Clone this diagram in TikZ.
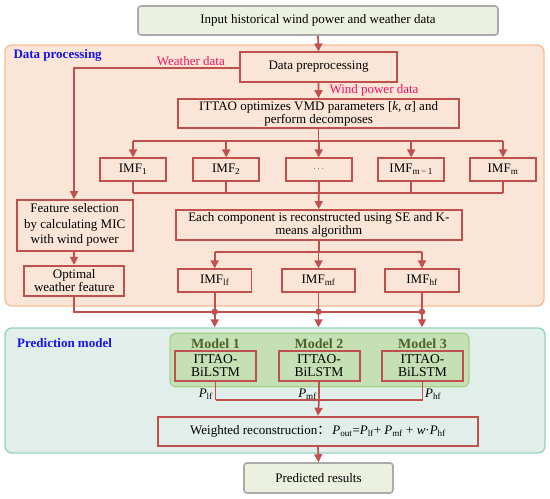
\documentclass[tikz,border=0pt]{standalone}
\usepackage{fontspec}
\setmainfont{Liberation Serif}
\newfontfamily\cjk{Noto Sans CJK SC}
\usetikzlibrary{arrows.meta}
\definecolor{lr}{RGB}{192,80,77}
\definecolor{mag}{RGB}{240,20,100}
\definecolor{lblue}{RGB}{20,20,235}
\definecolor{olive}{RGB}{79,98,40}
\definecolor{orfill}{RGB}{251,229,214}
\definecolor{ordraw}{RGB}{246,190,150}
\definecolor{tlfill}{RGB}{226,238,234}
\definecolor{tldraw}{RGB}{150,212,190}
\definecolor{gnfill}{RGB}{197,224,180}
\definecolor{gndraw}{RGB}{169,209,142}
\definecolor{iofill}{RGB}{235,241,222}
\definecolor{iodraw}{RGB}{170,170,170}
\begin{document}
\begin{tikzpicture}[x=1pt,y=-1pt,
  font=\fontsize{13}{12.5}\selectfont,
  box/.style={draw=lr, line width=1.8pt, inner sep=0pt, align=center},
  iobox/.style={draw=iodraw, fill=iofill, line width=1.6pt, rounded corners=3pt, inner sep=0pt, align=center},
  conn/.style={draw=lr, line width=1.7pt},
  arr/.style={conn, -{Triangle[length=8pt,width=8pt]}},
  lab/.style={text=mag, inner sep=0pt},
  sect/.style={text=lblue, font=\fontsize{13}{15}\selectfont\bfseries, inner sep=0pt, anchor=west},
  mlab/.style={text=olive, font=\fontsize{14}{15}\selectfont\bfseries, inner sep=0pt},
  mbox/.style={box, line width=2pt, font=\fontsize{13.5}{13}\selectfont, minimum width=81pt, minimum height=30pt},
  jdot/.style={fill=lr}
]
\useasboundingbox (0,0) rectangle (550,499);
% backgrounds
\node[draw=ordraw, fill=orfill, line width=1.4pt, rounded corners=7pt, minimum width=539pt, minimum height=261pt, inner sep=0pt] (dproc) at (274.5,175.5) {};
\node[draw=tldraw, fill=tlfill, line width=1.4pt, rounded corners=7pt, minimum width=540pt, minimum height=125pt, inner sep=0pt] (pmod) at (275,390.5) {};
\node[draw=gndraw, fill=gnfill, line width=1.4pt, rounded corners=6pt, minimum width=299pt, minimum height=53.4pt, inner sep=0pt] (gbox) at (319.5,360) {};
\node[sect] (t1) at (13.3,55.7) {Data processing};
\node[sect] (t2) at (17,343) {Prediction model};

% top
\node[iobox, minimum width=360pt, minimum height=29pt] (in) at (318,20.5) {Input historical wind power and weather data};
\node[box, minimum width=157pt, minimum height=29.4pt] (dp) at (318.5,67) {Data preprocessing};
\node[box, minimum width=281pt, minimum height=29.3pt] (ittao) at (318.6,113.7) {ITTAO optimizes VMD parameters [\textit{k}, \textit{α}] and\\perform decomposes};
\node[lab, anchor=east] (wd) at (225,61) {Weather data};
\node[lab, anchor=west] (wp) at (329.3,90.7) {Wind power data};

% IMF row
\foreach \n/\x/\t in {i1/133/IMF\textsubscript{1}, i2/226.2/IMF\textsubscript{2}, i3/318.7/\raisebox{1pt}{\fontsize{9}{9}\selectfont$\cdots$}, i4/411.2/IMF\textsubscript{m\,−\,1}, i5/503/IMF\textsubscript{m}}
  \node[box, minimum width=66pt, minimum height=22.4pt] (\n) at (\x,169.5) {\t};

\node[box, minimum width=285.7pt, minimum height=30pt] (se) at (318.8,225) {Each component is reconstructed using SE and K-\\means algorithm};

\foreach \n/\x/\t in {lf/214.7/IMF\textsubscript{lf}, mf/318.5/IMF\textsubscript{mf}, hf/422/IMF\textsubscript{hf}}
  \node[box, minimum width=73.5pt, minimum height=22.4pt] (\n) at (\x,280.5) {\t};

\node[box, minimum width=116pt, minimum height=50.7pt, font=\fontsize{13}{15.5}\selectfont] (feat) at (74.7,225.3) {Feature selection\\by calculating MIC\\with wind power};
\node[box, minimum width=100pt, minimum height=30pt] (opt) at (74.3,280.7) {Optimal\\weather feature};

% models
\node[mlab] (ml1) at (215.5,343.5) {Model 1};
\node[mlab] (ml2) at (319,343.5) {Model 2};
\node[mlab] (ml3) at (422.5,343.5) {Model 3};
\node[mbox] (m1) at (215.5,365.7) {ITTAO-\\BiLSTM};
\node[mbox] (m2) at (319,365.7) {ITTAO-\\BiLSTM};
\node[mbox] (m3) at (422.5,365.7) {ITTAO-\\BiLSTM};

\node[box, minimum width=320pt, minimum height=29.3pt] (wr) at (318,431.3) {Weighted reconstruction{\cjk ：}\,\textit{P}\textsubscript{out}=\textit{P}\textsubscript{lf}+ \textit{P}\textsubscript{mf} + \textit{w}·\textit{P}\textsubscript{hf}};
\node[iobox, minimum width=149pt, minimum height=30pt] (pr) at (318.5,478) {Predicted results};

% coordinates
\coordinate (b1) at (318.6,140.7);
\coordinate (b2) at (318.7,193.3);
\coordinate (b3) at (318.8,252.3);
\coordinate (w1) at (74,68);
\coordinate (o1) at (74,311.7);
\coordinate (p1) at (319,400);

% connectors
\draw[arr] (in.south) -- (dp.north);
\draw[arr] (dp.west |- w1) -- (w1) -- (feat.north -| w1);
\draw[arr] (dp.south) -- (ittao.north);
\draw[conn] (ittao.south) -- (b1);
\draw[conn] (b1 -| i1) -- (b1 -| i5);
\foreach \n in {i1,i2,i3,i4,i5} \draw[arr] (b1 -| \n) -- (\n.north);
\foreach \n in {i1,i2,i3,i4,i5} \draw[conn] (\n.south) -- (b2 -| \n);
\draw[conn] (b2 -| i1) -- (b2 -| i5);
\draw[arr] (b2) -- (se.north);
\draw[conn] (se.south) -- (b3);
\draw[conn] (b3 -| lf) -- (b3 -| hf);
\foreach \n in {lf,mf,hf} \draw[arr] (b3 -| \n) -- (\n.north);
\draw[arr] (feat.south -| w1) -- (opt.north -| w1);
\draw[conn] (opt.south -| o1) -- (o1) -- (o1 -| hf);
\foreach \n in {lf,mf,hf} {
  \draw[conn] (\n.south) -- (o1 -| \n);
  \draw[arr] (o1 -| \n) -- (pmod.north -| \n);
  \fill[jdot] (o1 -| \n) circle (3.2pt);
}
\foreach \n in {m1,m2,m3} \draw[conn] (\n.south) -- (p1 -| \n);
\draw[conn] (p1 -| m1) -- (p1 -| m3);
\draw[arr] (p1) -- (wr.north);
\draw[arr] (wr.south) -- (pr.north);
\node[anchor=east, inner sep=0pt] (plf) at (213,394) {\textit{P}\textsubscript{lf}};
\node[anchor=east, inner sep=0pt] (pmf) at (317,394) {\textit{P}\textsubscript{mf}};
\node[anchor=west, inner sep=0pt] (phf) at (425,394) {\textit{P}\textsubscript{hf}};
\end{tikzpicture}
\end{document}
